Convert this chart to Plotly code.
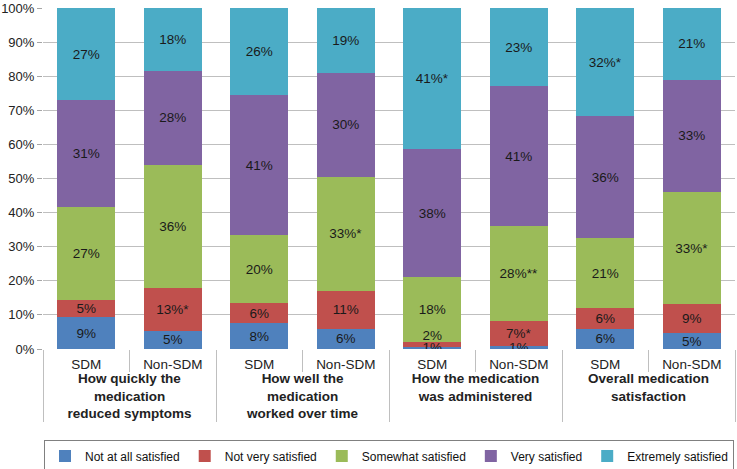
import plotly.graph_objects as go

groups = [
    "<b>How quickly the<br>medication<br>reduced symptoms</b>",
    "<b>How well the<br>medication<br>worked over time</b>",
    "<b>How the medication<br>was administered</b>",
    "<b>Overall medication<br>satisfaction</b>",
]
arms = ["SDM", "Non-SDM"]

# segment sizes (percent), order: SDM, Non-SDM per group
not_at_all = [9.3, 5.3, 7.6, 6.0, 0.7, 0.8, 6.0, 4.6]
not_very = [5.0, 12.5, 5.9, 11.0, 1.5, 7.5, 6.0, 8.6]
somewhat = [27.2, 36.2, 19.8, 33.5, 18.8, 27.7, 20.5, 32.8]
very = [31.5, 27.5, 41.2, 30.5, 37.7, 41.0, 35.8, 33.0]
extremely = [27.0, 18.5, 25.5, 19.0, 41.3, 23.0, 31.7, 21.0]

# a transparent second line nudges the tiny "2%" label up, clear of the "1%" below it
spacer = "<br><span style='color:rgba(0,0,0,0)'>0%</span>"
not_at_all_lbl = ["9%", "5%", "8%", "6%", "1%", "1%", "6%", "5%"]
not_very_lbl = ["5%", "13%*", "6%", "11%", "2%" + spacer, "7%*", "6%", "9%"]
somewhat_lbl = ["27%", "36%", "20%", "33%*", "18%", "28%**", "21%", "33%*"]
very_lbl = ["31%", "28%", "41%", "30%", "38%", "41%", "36%", "33%"]
extremely_lbl = ["27%", "18%", "26%", "19%", "41%*", "23%", "32%*", "21%"]

series = [
    ("Not at all satisfied", not_at_all, not_at_all_lbl, "#4F81BD"),
    ("Not very satisfied", not_very, not_very_lbl, "#C0504D"),
    ("Somewhat satisfied", somewhat, somewhat_lbl, "#9BBB59"),
    ("Very satisfied", very, very_lbl, "#8064A2"),
    ("Extremely satisfied", extremely, extremely_lbl, "#4BACC6"),
]

x_outer = [g for g in groups for _ in arms]
x_inner = arms * len(groups)

fig = go.Figure()
for i, (name, vals, lbls, color) in enumerate(series):
    fig.add_trace(go.Bar(
        x=[x_outer, x_inner], y=vals, name=name,
        marker=dict(color=color, line=dict(width=0)),
        text=lbls, textposition="inside", insidetextanchor="middle",
        textangle=0, constraintext="none", cliponaxis=False,
        textfont=dict(color="#1a1a1a", size=13.5),
        zorder=len(series) - i,  # lower segments on top so overflowing labels stay visible
    ))

fig.update_layout(
    barmode="stack",
    bargap=0.33,
    width=737, height=469,
    margin=dict(l=43, r=2, t=8, b=120, autoexpand=False),
    plot_bgcolor="white", paper_bgcolor="white",
    font=dict(family="Liberation Sans, Arial, sans-serif", size=13.5, color="#222"),
    uniformtext=dict(minsize=13.5, mode="show"),
    legend=dict(
        orientation="h", x=0.5, xanchor="center", y=-0.268, yanchor="top",
        bordercolor="#808080", borderwidth=1, font=dict(size=12, color="#111"),
        traceorder="normal", itemwidth=30,
    ),
    showlegend=True,
)
fig.update_yaxes(
    range=[0, 100], dtick=10, ticksuffix="%", automargin=False,
    showgrid=True, gridcolor="#BFBFBF", gridwidth=1,
    showline=True, linecolor="#A6A6A6", ticks="outside", tickcolor="#A6A6A6", ticklen=5,
    zeroline=False, tickfont=dict(size=13),
)
fig.update_xaxes(
    showline=True, linecolor="#A6A6A6", automargin=False,
    ticks="outside", tickson="boundaries", tickcolor="#BFBFBF", ticklen=22,
    ticklabelstandoff=3,
    showdividers=True, dividercolor="#BFBFBF", dividerwidth=1,
    tickfont=dict(size=13.5),
)

# drop the browser's default body margin so the figure sits at the page corner
fig.write_html("out.html", config={"displayModeBar": False},
               post_script="document.body.style.margin='0';")
